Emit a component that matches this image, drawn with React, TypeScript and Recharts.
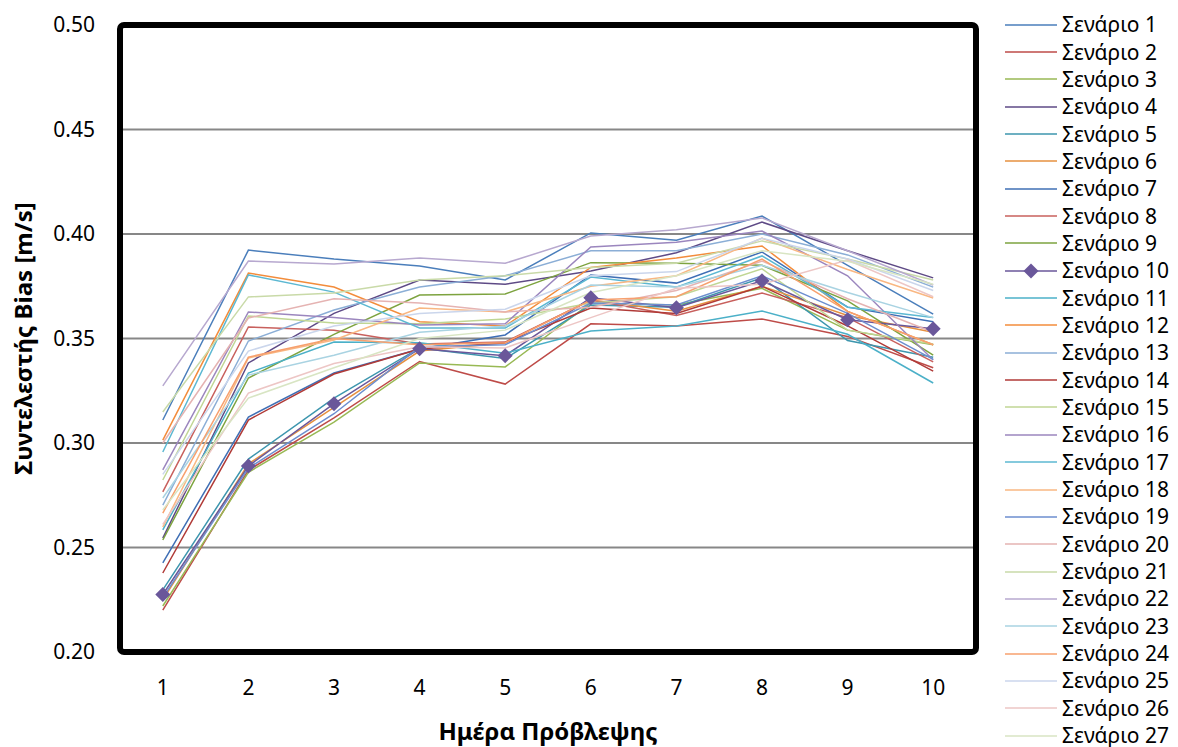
import React from "react";
import {
  LineChart,
  Line,
  XAxis,
  YAxis,
  CartesianGrid,
  ReferenceArea,
  Legend,
} from "recharts";

const DAYS = [1, 2, 3, 4, 5, 6, 7, 8, 9, 10];
const Y_TICKS = [0.2, 0.25, 0.3, 0.35, 0.4, 0.45, 0.5];
const BAND_EDGES = [1.5, 2.5, 3.5, 4.5, 5.5, 6.5, 7.5, 8.5, 9.5];

// bias per forecast day, one array per scenario
const scenario1 = [0.311, 0.3923, 0.388, 0.3847, 0.378, 0.4005, 0.397, 0.4086, 0.385, 0.3617];
const scenario2 = [0.22, 0.287, 0.312, 0.339, 0.3282, 0.357, 0.356, 0.3593, 0.351, 0.336];
const scenario3 = [0.222, 0.286, 0.31, 0.3383, 0.3364, 0.367, 0.366, 0.374, 0.354, 0.347];
const scenario4 = [0.2545, 0.3383, 0.362, 0.378, 0.376, 0.3823, 0.391, 0.4057, 0.392, 0.379];
const scenario5 = [0.2297, 0.2923, 0.3215, 0.3455, 0.3404, 0.366, 0.365, 0.379, 0.349, 0.341];
const scenario6 = [0.225, 0.29, 0.317, 0.344, 0.348, 0.3684, 0.363, 0.375, 0.361, 0.353];
const scenario7 = [0.2426, 0.3124, 0.3335, 0.345, 0.3517, 0.3804, 0.3765, 0.3914, 0.365, 0.358];
const scenario8 = [0.2766, 0.3555, 0.354, 0.3474, 0.3483, 0.3684, 0.361, 0.3718, 0.36, 0.3388];
const scenario9 = [0.2536, 0.3311, 0.352, 0.3708, 0.3713, 0.3863, 0.386, 0.385, 0.368, 0.342];
const scenario10 = [0.2275, 0.289, 0.3188, 0.3451, 0.3418, 0.3695, 0.3647, 0.3776, 0.359, 0.3547];
const scenario11 = [0.2584, 0.3335, 0.3483, 0.348, 0.343, 0.3536, 0.356, 0.3632, 0.352, 0.3287];
const scenario12 = [0.3014, 0.3813, 0.3746, 0.358, 0.356, 0.384, 0.3885, 0.3943, 0.363, 0.347];
const scenario13 = [0.2703, 0.3488, 0.3636, 0.3746, 0.38, 0.392, 0.392, 0.4, 0.39, 0.3746];
const scenario14 = [0.2378, 0.311, 0.333, 0.345, 0.348, 0.3646, 0.362, 0.375, 0.356, 0.3344];
const scenario15 = [0.2823, 0.3608, 0.3574, 0.357, 0.3593, 0.367, 0.37, 0.3833, 0.354, 0.3474];
const scenario16 = [0.2871, 0.3627, 0.36, 0.3565, 0.357, 0.3938, 0.396, 0.4014, 0.38, 0.3397];
const scenario17 = [0.2957, 0.3804, 0.3722, 0.355, 0.355, 0.3794, 0.3746, 0.3895, 0.365, 0.36];
const scenario18 = [0.2598, 0.3407, 0.3493, 0.3646, 0.3627, 0.375, 0.38, 0.398, 0.383, 0.3694];
const scenario19 = [0.226, 0.288, 0.314, 0.346, 0.347, 0.367, 0.366, 0.38, 0.362, 0.34];
const scenario20 = [0.3, 0.3598, 0.369, 0.367, 0.3627, 0.365, 0.373, 0.3871, 0.369, 0.353];
const scenario21 = [0.3148, 0.3699, 0.3718, 0.378, 0.38, 0.384, 0.386, 0.3967, 0.388, 0.378];
const scenario22 = [0.3273, 0.3871, 0.3856, 0.3885, 0.386, 0.399, 0.402, 0.4077, 0.392, 0.3756];
const scenario23 = [0.2737, 0.3325, 0.342, 0.353, 0.356, 0.3756, 0.3746, 0.385, 0.372, 0.36];
const scenario24 = [0.2665, 0.3411, 0.35, 0.347, 0.348, 0.3684, 0.37, 0.388, 0.363, 0.347];
const scenario25 = [0.285, 0.344, 0.356, 0.362, 0.364, 0.38, 0.382, 0.398, 0.388, 0.373];
const scenario26 = [0.261, 0.3239, 0.338, 0.346, 0.3455, 0.36, 0.374, 0.376, 0.3875, 0.37];
const scenario27 = [0.268, 0.3215, 0.336, 0.35, 0.354, 0.372, 0.38, 0.392, 0.387, 0.376];

const SCENARIOS = [
  scenario1, scenario2, scenario3, scenario4, scenario5, scenario6, scenario7,
  scenario8, scenario9, scenario10, scenario11, scenario12, scenario13, scenario14,
  scenario15, scenario16, scenario17, scenario18, scenario19, scenario20, scenario21,
  scenario22, scenario23, scenario24, scenario25, scenario26, scenario27,
];

const COLORS = [
  "#4A7EBB", "#BE4B48", "#98B954", "#5E4A86", "#3D96AE", "#E6903F", "#3F6FB5",
  "#C8605D", "#7DA33F", "#6A579A", "#4BB0C8", "#F38C3B", "#8BAED6", "#B03A37",
  "#C0D694", "#9B86BE", "#5CB8D2", "#F9B782", "#6C8ECF", "#E5B3B2", "#C9DAA8",
  "#B7A8CF", "#A9D3E2", "#F7A06E", "#CBD6EC", "#EDC6C5", "#D8E5C3",
];

const MARKED = "s10";
const FONT = "'Noto Sans', sans-serif";

const data = DAYS.map((day, i) => {
  const row: Record<string, number> = { day };
  SCENARIOS.forEach((vals, s) => {
    row[`s${s + 1}`] = vals[i];
  });
  return row;
});

const seriesIndex = (key: string) => Number(String(key).slice(1));

function Diamond({ cx, cy, fill }: { cx?: number; cy?: number; fill: string }) {
  if (cx == null || cy == null) return null;
  const r = 7.5;
  return (
    <polygon
      points={`${cx},${cy - r} ${cx + r},${cy} ${cx},${cy + r} ${cx - r},${cy}`}
      fill={fill}
    />
  );
}

function ScenarioLegend({ payload }: any) {
  // keep scenario order instead of alphabetical
  const items = [...(payload || [])].sort(
    (a: any, b: any) => seriesIndex(a.dataKey) - seriesIndex(b.dataKey)
  );
  return (
    <div style={{ fontFamily: FONT, fontSize: 21, color: "#000" }}>
      {items.map((entry: any) => (
        <div
          key={entry.dataKey}
          style={{ height: 27.35, display: "flex", alignItems: "center" }}
        >
          <svg width={62} height={16} style={{ flex: "none" }}>
            <line x1={5} y1={8} x2={57} y2={8} stroke={entry.color} strokeWidth={1.5} />
            {entry.dataKey === MARKED && (
              <Diamond cx={31} cy={8} fill={entry.color} />
            )}
          </svg>
          <span style={{ whiteSpace: "nowrap", lineHeight: 1 }}>{entry.value}</span>
        </div>
      ))}
    </div>
  );
}

function YTitle({ viewBox }: any) {
  const x = viewBox.x + 22;
  const y = viewBox.y + viewBox.height / 2;
  return (
    <text
      x={x}
      y={y}
      transform={`rotate(-90, ${x}, ${y})`}
      textAnchor="middle"
      dominantBaseline="central"
      style={{ fontFamily: FONT, fontSize: 24, fontWeight: 700, fill: "#000" }}
    >
      Συντελεστής Bias [m/s]
    </text>
  );
}

export default function App() {
  return (
    <div style={{ position: "absolute", left: 0, top: 0, background: "#fff" }}>
      <LineChart
        width={1178}
        height={747}
        data={data}
        margin={{ top: 25, right: 202, bottom: 0, left: 0 }}
        style={{ fontFamily: FONT }}
      >
        <CartesianGrid vertical={false} stroke="#878787" strokeWidth={2} />
        <XAxis
          xAxisId="marks"
          dataKey="day"
          type="number"
          domain={[0.5, 10.5]}
          ticks={BAND_EDGES}
          mirror
          height={0}
          axisLine={false}
          tickSize={9}
          tickLine={{ stroke: "#000", strokeWidth: 2 }}
          tickFormatter={() => ""}
        />
        <XAxis
          dataKey="day"
          type="number"
          domain={[0.5, 10.5]}
          ticks={DAYS}
          height={95}
          axisLine={false}
          tickLine={false}
          tickSize={0}
          tickMargin={28}
          tick={{ fill: "#000", fontSize: 21 }}
          label={{
            value: "Ημέρα Πρόβλεψης",
            position: "insideBottom",
            offset: 7,
            style: { fontSize: 24, fontWeight: 700, fill: "#000" },
          }}
        />
        <YAxis
          yAxisId="marks"
          type="number"
          domain={[0.2, 0.5]}
          ticks={Y_TICKS}
          mirror
          width={0}
          axisLine={false}
          tickSize={9}
          tickLine={{ stroke: "#000", strokeWidth: 2 }}
          tickFormatter={() => ""}
        />
        <YAxis
          type="number"
          domain={[0.2, 0.5]}
          ticks={Y_TICKS}
          width={120}
          axisLine={false}
          tickLine={false}
          tickSize={0}
          tickMargin={25}
          tick={{ fill: "#000", fontSize: 21 }}
          tickFormatter={(v: number) => v.toFixed(2)}
          label={<YTitle />}
        />
        {SCENARIOS.map((_, s) => {
          const key = `s${s + 1}`;
          return (
            <Line
              key={key}
              dataKey={key}
              name={`Σενάριο ${s + 1}`}
              stroke={COLORS[s]}
              strokeWidth={1.5}
              dot={key === MARKED ? <Diamond fill={COLORS[s]} /> : false}
              activeDot={false}
              isAnimationActive={false}
            />
          );
        })}
        <ReferenceArea
          x1={0.5}
          x2={10.5}
          y1={0.2}
          y2={0.5}
          fill="none"
          stroke="#000"
          strokeWidth={6}
          radius={4}
          ifOverflow="visible"
        />
        <Legend
          layout="horizontal"
          verticalAlign="middle"
          align="center"
          content={<ScenarioLegend />}
          wrapperStyle={{ left: 1000, top: 11, width: 178, height: "auto" }}
        />
      </LineChart>
    </div>
  );
}
